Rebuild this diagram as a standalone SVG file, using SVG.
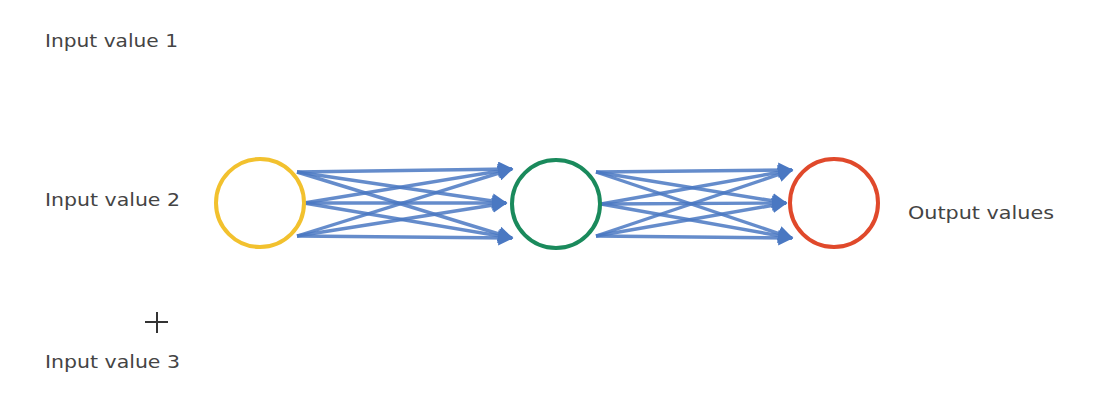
<svg xmlns="http://www.w3.org/2000/svg" width="1096" height="404" viewBox="0 0 1096 404">
<defs>
<marker id="ah" viewBox="0 0 10 10" refX="9" refY="5" markerWidth="4.5" markerHeight="4.5" orient="auto" markerUnits="strokeWidth">
<path d="M0,0 L10,5 L0,10 z" fill="#4a78c2"/>
</marker>
</defs>
<style>
.lbl{font-family:"DejaVu Sans","Liberation Sans",sans-serif;font-size:18px;fill:#444}
.c{fill:#fff;stroke-width:4}
.a{stroke:#4a78c2;stroke-width:3.4;fill:none;stroke-opacity:0.85;marker-end:url(#ah)}
</style>
<rect width="1096" height="404" fill="#fff"/>
<g id="connectors">
<line class="a" x1="297" y1="172" x2="512" y2="169"/>
<line class="a" x1="297" y1="172" x2="506" y2="203"/>
<line class="a" x1="297" y1="172" x2="512" y2="238"/>
<line class="a" x1="304" y1="203" x2="512" y2="169"/>
<line class="a" x1="304" y1="203" x2="506" y2="203"/>
<line class="a" x1="304" y1="203" x2="512" y2="238"/>
<line class="a" x1="297" y1="236" x2="512" y2="169"/>
<line class="a" x1="297" y1="236" x2="506" y2="203"/>
<line class="a" x1="297" y1="236" x2="512" y2="238"/>
<line class="a" x1="596" y1="172" x2="792" y2="170"/>
<line class="a" x1="596" y1="172" x2="786" y2="203"/>
<line class="a" x1="596" y1="172" x2="792" y2="238"/>
<line class="a" x1="601" y1="204" x2="792" y2="170"/>
<line class="a" x1="601" y1="204" x2="786" y2="203"/>
<line class="a" x1="601" y1="204" x2="792" y2="238"/>
<line class="a" x1="596" y1="236" x2="792" y2="170"/>
<line class="a" x1="596" y1="236" x2="786" y2="203"/>
<line class="a" x1="596" y1="236" x2="792" y2="238"/>
</g>
<g id="input-node"><circle class="c" cx="260" cy="203" r="44" stroke="#f2c12e"/></g>
<g id="hidden-node"><circle class="c" cx="556" cy="204" r="44" stroke="#1a8a5c"/></g>
<g id="output-node"><circle class="c" cx="834" cy="203" r="44" stroke="#e0492b"/></g>
<g id="label-in1"><text class="lbl" x="45" y="47" textLength="133" lengthAdjust="spacingAndGlyphs">Input value 1</text></g>
<g id="label-in2"><text class="lbl" x="45" y="206" textLength="135" lengthAdjust="spacingAndGlyphs">Input value 2</text></g>
<g id="label-in3"><text class="lbl" x="45" y="368" textLength="135" lengthAdjust="spacingAndGlyphs">Input value 3</text></g>
<g id="label-out"><text class="lbl" x="908" y="219" textLength="146" lengthAdjust="spacingAndGlyphs">Output values</text></g>
<g id="plus" stroke="#333" stroke-width="2"><line x1="145" y1="322" x2="168" y2="322"/><line x1="157" y1="312" x2="157" y2="333"/></g>
</svg>
